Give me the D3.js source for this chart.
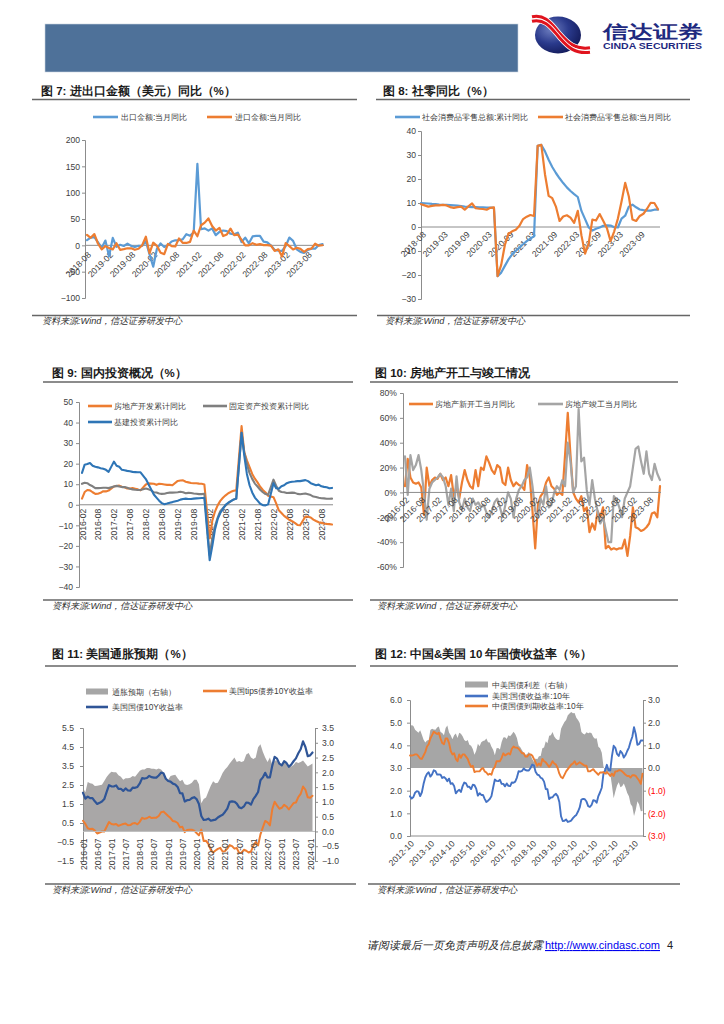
<!DOCTYPE html>
<html><head><meta charset="utf-8">
<script src="https://cdn.jsdelivr.net/npm/d3@7"></script>
<style>
body{margin:0;background:#fff;}
svg text{font-family:"Liberation Sans",Arial,sans-serif;}
</style></head><body>
<script>
// ---------- DATA ----------
// Fig 7: 进出口金额同比 2018-08 .. 2023-12
const fig7Ticks = ['2018-08','2019-02','2019-08','2020-02','2020-08','2021-02','2021-08','2022-02','2022-08','2023-02','2023-08'];
const fig7Export = [9.8,14.5,15.6,5.4,-4.4, 9.1,-20.7,14.2,-2.7,1.1,-1.3,3.3,-1.0,-3.2,-0.9,-1.1,7.6,
 -17.2,-40.6,-6.6,3.5,-3.3,0.5,7.2,9.5,9.9,11.4,21.1,18.1,
 24.9,154.9,30.6,32.3,27.9,32.2,19.3,25.6,28.1,27.1,22.0,20.9,
 24.1,6.2,14.7,3.9,16.9,17.9,18.0,7.1,5.7,-0.3,-8.7,-9.9,
 -10.5,-1.3,14.8,8.5,-7.5,-12.4,-14.5,-8.8,-6.2,-6.4,0.5,2.3];
const fig7Import = [19.9,14.3,21.4,3.0,-7.6, -1.5,-5.2,-7.6,4.0,-8.5,-7.3,-5.6,-5.6,-8.5,-6.4,0.3,16.3,
 -15.0,5.0,-0.9,-14.2,-16.7,2.7,-1.4,-2.1,13.2,4.7,4.5,6.5,
 28.0,17.3,38.1,43.1,51.1,36.7,28.1,33.1,17.6,20.6,31.7,19.5,
 20.5,10.4,-0.1,0.0,4.1,1.0,2.3,0.3,0.3,-0.7,-10.6,-7.5,
 -21.3,4.2,-1.4,-7.9,-4.5,-6.8,-12.4,-7.3,-6.2,3.0,-0.6,0.2];

// Fig 8: 社零同比
const fig8Ticks = ['2018-08','2019-03','2019-09','2020-03','2020-09','2021-03','2021-09','2022-03','2022-09','2023-03','2023-09'];
const fig8Cum = [10.0,9.9,9.8,9.6,9.5,9.3,9.2,9.2,9.1,9.0,8.9,8.7,8.5,8.4,8.3,8.3,8.2,8.2,8.1,8.1,8.0,
 -20.5,-19.0,-16.2,-13.5,-11.4,-9.9,-8.6,-7.2,-5.9,-4.8,-3.9,
 33.8,34.2,31.5,28.0,25.0,22.5,20.3,18.3,16.5,15.0,13.7,12.5,
 6.7,3.3,-0.2,-1.5,-0.7,-0.2,0.5,0.7,0.6,-0.1,-0.2,
 3.5,4.7,8.5,9.3,8.2,7.3,7.0,6.8,6.8,7.2,7.2];
const fig8Month = [9.5,9.0,8.5,8.8,9.0,9.0,9.2,9.0,8.3,8.0,8.3,8.5,7.2,8.6,9.8,7.8,7.6,7.5,7.2,8.0,8.2,
 -20.5,-15.8,-7.5,-2.8,-1.8,-1.1,0.5,3.3,4.3,5.0,4.6,
 33.8,34.2,22.0,13.0,12.0,8.5,2.5,4.4,4.9,3.9,1.7,6.7,
 -3.5,-11.1,-6.7,3.1,2.7,5.4,2.5,-0.5,-5.9,-1.8,3.5,
 10.6,18.4,12.7,3.1,2.5,4.6,5.5,7.6,10.1,10.0,7.4];

// Fig 9: 国内投资 2016-02 .. 2023-12 (January = no data)
const fig9Ticks = ['2016-02','2016-08','2017-02','2017-08','2018-02','2018-08','2019-02','2019-08','2020-02','2020-08','2021-02','2021-08','2022-02','2022-08','2023-02','2023-08'];
const fig9RealEstate = [3.0,6.2,7.2,7.0,6.1,5.3,5.4,5.8,6.6,6.5,6.9, null,
 8.9,9.1,9.3,8.8,8.5,7.9,7.9,8.1,7.8,7.5,7.0, null,
 9.9,10.4,10.3,10.2,9.7,10.2,10.1,9.9,9.7,9.7,9.5, null,
 11.6,11.8,11.9,11.2,10.9,10.6,10.5,10.5,10.3,10.2,9.9, null,
 -16.3,-7.7,-3.3,-0.3,1.9,3.4,4.6,5.6,6.3,6.8,7.0, null,
 38.3,25.6,21.6,18.3,15.0,12.7,10.9,8.8,7.2,6.0,4.4, null,
 3.7,0.7,-2.7,-4.0,-5.4,-6.4,-7.4,-8.0,-8.8,-9.8,-10.0, null,
 -5.7,-5.8,-6.2,-7.2,-7.9,-8.5,-8.8,-9.1,-9.3,-9.4,-9.6];
const fig9FixedAsset = [10.2,10.7,10.5,9.6,9.0,8.1,8.1,8.2,8.3,8.3,8.1, null,
 8.9,9.2,8.9,8.6,8.6,8.3,7.8,7.5,7.3,7.2,7.2, null,
 7.9,7.5,7.0,6.1,6.0,5.5,5.3,5.4,5.7,5.9,5.9, null,
 6.1,6.3,6.1,5.6,5.8,5.7,5.5,5.4,5.2,5.2,5.4, null,
 -24.5,-16.1,-10.3,-6.3,-3.1,-1.6,-0.3,0.8,1.8,2.6,2.9, null,
 35.0,25.6,19.9,15.4,12.6,10.3,8.9,7.3,6.1,5.2,4.9, null,
 12.2,9.3,6.8,6.2,6.1,5.7,5.8,5.9,5.8,5.3,5.1, null,
 5.5,5.1,4.7,4.0,3.8,3.4,3.2,3.1,2.9,2.9,3.0];
const fig9Infra = [15.5,19.5,19.8,20.3,19.0,18.5,18.2,17.8,17.5,17.0,16.0, null,
 21.0,19.0,18.5,17.0,16.8,16.5,16.3,16.0,15.9,15.8,15.8, null,
 12.5,10.0,7.5,5.0,3.5,2.0,0.8,0.3,0.6,1.0,1.3, null,
 2.0,2.5,2.8,3.0,2.8,2.8,3.0,3.1,3.2,3.3,3.3, null,
 -27.0,-20.0,-12.0,-7.0,-4.0,-2.0,0.0,1.0,1.8,2.5,3.0, null,
 35.0,24.0,15.0,9.5,6.0,3.5,2.0,0.5,-0.2,-0.3,0.2, null,
 10.5,8.0,7.8,9.0,9.5,10.5,11.0,11.2,11.3,11.5,11.5, null,
 12.0,11.5,10.5,10.0,9.5,9.8,9.0,8.7,8.5,8.0,8.2];

// Fig 10: 房地产开工与竣工 (%)
const fig10Ticks = fig9Ticks.slice();
const fig10NewStart = [5,27,12,8,7,8,4,-18,20,5, 10,12,11,15,10,12,5,14,-3,5,
 -5,8,18,10,5,3,18,5,20,18, 29,24,18,15,22,20,8,6,20,10,
 5,8,6,5,2,22,12,-15,-45,-10, -3,0,8,12,5,3,-2,0,-2,30,
 64,30,0,-5,-8,-3,-15,-12,-32,-25, -30,-15,-20,-12,-45,-43,-46,-45,-46,-45,
 -45,-38,-51,-35,-12,-28,-29,-31,-30,-28, -25,-17,-16,-20,5];
const fig10Completed = [29,-2,30,18,22,30,18,0,-22,3, 8,10,12,15,12,5,-10,3,-15,13,
 -8,-14,-5,-12,-15,-5,-10,-8,-12,-10, -16,-20,-15,-8,-5,-12,-20,-10,0,-5,
 -20,-5,2,5,10,12,20,5,-15,-20, -5,-10,5,-12,-10,0,5,2,10,5,
 40,25,0,5,67,25,28,2,-10,10, -5,-15,-25,-20,-30,-40,-40,-3,-6,-12,
 -20,-5,0,5,20,35,37,25,15,33, 15,10,23,15,10];

// Fig 11: 美国通胀预期 2016-01 .. 2024-02 monthly
const fig11Ticks = ['2016-01','2016-07','2017-01','2017-07','2018-01','2018-07','2019-01','2019-07','2020-01','2020-07','2021-01','2021-07','2022-01','2022-07','2023-01','2023-07','2024-01'];
const fig11Breakeven = [1.47,1.33,1.67,1.63,1.61,1.54,1.55,1.56,1.58,1.71,1.84,1.94,
 2.02,2.00,2.00,1.90,1.85,1.75,1.80,1.80,1.82,1.88,1.85,1.95,
 2.05,2.10,2.10,2.15,2.15,2.12,2.12,2.10,2.13,2.10,2.00,1.80,
 1.75,1.88,1.90,1.92,1.80,1.70,1.75,1.60,1.57,1.60,1.65,1.75,
 1.75,1.60,0.95,1.10,1.15,1.35,1.55,1.70,1.63,1.65,1.80,1.98,
 2.10,2.18,2.30,2.40,2.50,2.35,2.38,2.35,2.38,2.60,2.65,2.50,
 2.45,2.50,2.85,2.95,2.70,2.50,2.35,2.50,2.25,2.40,2.40,2.30,
 2.25,2.35,2.30,2.25,2.20,2.25,2.35,2.32,2.35,2.40,2.30,2.20,
 2.25,2.30];
const fig11Tips = [0.62,0.45,0.22,0.18,0.20,0.10,-0.05,0.00,0.05,0.05,0.30,0.55,
 0.45,0.42,0.45,0.35,0.40,0.45,0.47,0.38,0.39,0.48,0.50,0.43,
 0.56,0.77,0.72,0.75,0.83,0.76,0.78,0.78,0.87,1.07,1.10,0.99,
 0.87,0.76,0.60,0.58,0.50,0.27,0.30,0.02,0.13,0.14,0.15,0.10,
 -0.03,-0.15,0.15,-0.45,-0.44,-0.60,-0.92,-1.05,-0.95,-0.86,-0.81,-1.00,
 -0.98,-0.85,-0.66,-0.72,-0.85,-0.82,-1.08,-1.06,-0.91,-0.96,-1.05,-1.00,
 -0.69,-0.50,-0.68,-0.10,0.26,0.61,0.53,0.37,1.22,1.62,1.43,1.25,
 1.30,1.46,1.37,1.21,1.38,1.55,1.58,1.86,2.03,2.42,2.25,1.85,
 1.83,1.93];
const fig11UST10 = [2.09,1.78,1.89,1.81,1.81,1.64,1.50,1.56,1.63,1.76,2.14,2.49,
 2.43,2.42,2.48,2.30,2.30,2.19,2.32,2.21,2.20,2.36,2.35,2.40,
 2.58,2.86,2.84,2.87,2.98,2.91,2.89,2.89,3.00,3.15,3.12,2.83,
 2.71,2.68,2.57,2.53,2.40,2.07,2.06,1.63,1.70,1.71,1.81,1.86,
 1.76,1.50,0.87,0.66,0.67,0.73,0.62,0.65,0.68,0.79,0.87,0.93,
 1.08,1.26,1.61,1.64,1.62,1.52,1.32,1.28,1.37,1.58,1.56,1.47,
 1.76,1.93,2.13,2.75,2.90,3.14,2.90,2.90,3.52,3.98,3.89,3.62,
 3.53,3.75,3.66,3.46,3.57,3.75,3.90,4.17,4.38,4.80,4.50,4.02,
 4.06,4.21];

// Fig 12: 中美10年国债 2012-10 .. 2024-03 monthly
const fig12Ticks = ['2012-10','2013-10','2014-10','2015-10','2016-10','2017-10','2018-10','2019-10','2020-10','2021-10','2022-10','2023-10'];
const fig12Spread = [1.80,1.90,1.85,
 1.69,1.62,1.56,1.66,1.47,1.25,1.12,1.21,1.24,1.68,1.73,1.70,
 1.69,1.79,1.83,1.59,1.54,1.45,1.76,1.88,1.57,1.45,1.27,1.44,
 1.52,1.32,1.56,1.51,1.40,1.24,1.18,1.23,1.03,0.98,0.84,0.58,
 0.76,1.07,0.96,1.14,1.19,1.21,1.30,1.14,1.12,0.94,0.81,0.56,
 0.87,0.88,0.82,1.15,1.35,1.36,1.28,1.44,1.40,1.49,1.60,1.50,
 1.32,0.99,0.91,0.78,0.67,0.59,0.61,0.71,0.60,0.40,0.28,0.42,
 0.39,0.52,0.53,0.87,0.90,1.18,1.09,1.42,1.45,1.59,1.39,1.29,
 1.24,1.25,1.73,1.89,2.03,2.12,2.33,2.40,2.47,2.41,2.43,2.22,
 2.12,1.99,1.59,1.51,1.48,1.58,1.53,1.57,1.53,1.37,1.29,1.31,
 0.94,0.87,0.67,0.07,-0.15,-0.32,-0.15,-0.25,-0.77,-1.33,-1.04,-0.77,
 -0.63,-0.85,-0.81,-0.68,-0.87,-1.10,-1.25,-1.59,-1.70,-2.12,-1.85,-1.47,
 -1.61,-1.91,-1.90];
const fig12US = [1.75,1.65,1.72,
 1.91,1.98,1.96,1.76,1.93,2.30,2.58,2.74,2.81,2.62,2.72,2.90,
 2.86,2.71,2.72,2.71,2.56,2.60,2.54,2.42,2.53,2.30,2.33,2.21,
 1.88,1.98,2.04,1.94,2.20,2.36,2.32,2.17,2.17,2.07,2.26,2.24,
 2.09,1.78,1.89,1.81,1.81,1.64,1.50,1.56,1.63,1.76,2.14,2.49,
 2.43,2.42,2.48,2.30,2.30,2.19,2.32,2.21,2.20,2.36,2.35,2.40,
 2.58,2.86,2.84,2.87,2.98,2.91,2.89,2.89,3.00,3.15,3.12,2.83,
 2.71,2.68,2.57,2.53,2.40,2.07,2.06,1.63,1.70,1.71,1.81,1.86,
 1.76,1.50,0.87,0.66,0.67,0.73,0.62,0.65,0.68,0.79,0.87,0.93,
 1.08,1.26,1.61,1.64,1.62,1.52,1.32,1.28,1.37,1.58,1.56,1.47,
 1.76,1.93,2.13,2.75,2.90,3.14,2.90,2.90,3.52,3.98,3.89,3.62,
 3.53,3.75,3.66,3.46,3.57,3.75,3.90,4.17,4.38,4.80,4.50,4.02,
 4.06,4.21,4.21];
const fig12CN = [3.55,3.55,3.57,
 3.60,3.60,3.52,3.42,3.40,3.55,3.70,3.95,4.05,4.30,4.45,4.60,
 4.55,4.50,4.55,4.30,4.10,4.05,4.30,4.30,4.10,3.75,3.60,3.65,
 3.40,3.30,3.60,3.45,3.60,3.60,3.50,3.40,3.20,3.05,3.10,2.82,
 2.85,2.85,2.85,2.95,3.00,2.85,2.80,2.70,2.75,2.70,2.95,3.05,
 3.30,3.30,3.30,3.45,3.65,3.55,3.60,3.65,3.60,3.85,3.95,3.90,
 3.90,3.85,3.75,3.65,3.65,3.50,3.50,3.60,3.60,3.55,3.40,3.25,
 3.10,3.20,3.10,3.40,3.30,3.25,3.15,3.05,3.15,3.30,3.20,3.15,
 3.00,2.75,2.60,2.55,2.70,2.85,2.95,3.05,3.15,3.20,3.30,3.15,
 3.20,3.25,3.20,3.15,3.10,3.10,2.85,2.85,2.90,2.95,2.85,2.78,
 2.70,2.80,2.80,2.82,2.75,2.82,2.75,2.65,2.75,2.65,2.85,2.85,
 2.90,2.90,2.85,2.78,2.70,2.65,2.65,2.58,2.68,2.68,2.65,2.55,
 2.45,2.30,2.75];

// ---------- DRAWING ----------
const svg = d3.select('body').append('svg').attr('width',724).attr('height',1024);
const CJK = '"Noto Sans CJK SC", sans-serif';
const ORANGE='#ed7d31';

function title(x,y,t){svg.append('text').attr('x',x).attr('y',y).attr('font-family',CJK).attr('font-size',11.5).attr('font-weight','bold').attr('fill','#1a1a1a').text(t);}
function hline(x1,x2,y,w,c){svg.append('line').attr('x1',x1).attr('x2',x2).attr('y1',y).attr('y2',y).attr('stroke',c||'#666').attr('stroke-width',w||1.3);}
function source(x,y){svg.append('text').attr('x',x).attr('y',y).attr('font-family',CJK).attr('font-size',9.2).attr('font-style','italic').attr('fill','#333').text('资料来源:Wind，信达证券研发中心');}
function legLine(x1,x2,y,color,text,tx,w){
  svg.append('line').attr('x1',x1).attr('x2',x2).attr('y1',y).attr('y2',y).attr('stroke',color).attr('stroke-width',w||2.6);
  svg.append('text').attr('x',tx).attr('y',y+3).attr('font-family',CJK).attr('font-size',8.4).attr('fill','#404040').text(text);
}
function legRect(x,y,w,h,color,text,tx,ty){
  svg.append('rect').attr('x',x).attr('y',y).attr('width',w).attr('height',h).attr('fill',color);
  svg.append('text').attr('x',tx).attr('y',ty).attr('font-family',CJK).attr('font-size',8.4).attr('fill','#404040').text(text);
}
function yAxis(scale,x,ticks,fmt,pad,right,colorFn){
  const ax=(right?d3.axisRight(scale):d3.axisLeft(scale)).tickValues(ticks).tickSize(3).tickPadding(pad-3).tickFormat(fmt);
  const g=svg.append('g').attr('transform',`translate(${x},0)`).call(ax)
    .attr('font-family','"Liberation Sans", Arial, sans-serif').attr('font-size',8.6);
  g.select('.domain').attr('stroke','#8c8c8c');
  g.selectAll('.tick line').attr('stroke','#8c8c8c');
  g.selectAll('.tick text').attr('fill',d=>colorFn?colorFn(d):'#404040');
  return g;
}
function xAxis(scale,y,x0,x1,ticks,labels,rot,dx,dy,lineColor){
  if(lineColor!==null) svg.append('line').attr('x1',x0).attr('x2',x1).attr('y1',y).attr('y2',y).attr('stroke',lineColor||'#8c8c8c').attr('stroke-width',1);
  const ax=d3.axisBottom(scale).tickValues(ticks).tickSize(0).tickFormat((d,i)=>labels[i]);
  const g=svg.append('g').attr('transform',`translate(0,${y})`).call(ax)
    .attr('font-family','"Liberation Sans", Arial, sans-serif').attr('font-size',8.6);
  g.select('.domain').remove();
  g.selectAll('.tick text').attr('x',0).attr('y',0).attr('dy','0.35em').attr('fill','#404040')
    .attr('transform',`translate(${dx},${dy}) rotate(${rot})`).style('text-anchor','end');
}
function drawLine(xs,ys,data,color,w){
  const pts=data.map((v,i)=>[i,v]).filter(d=>d[1]!=null);
  svg.append('path').datum(pts).attr('fill','none').attr('stroke',color).attr('stroke-width',w)
    .attr('stroke-linejoin','round').attr('stroke-linecap','round')
    .attr('d',d3.line().x(d=>xs(d[0])).y(d=>ys(d[1])));
}
function drawArea(xs,ys,data,color){
  svg.append('path').datum(data).attr('fill',color)
    .attr('d',d3.area().x((d,i)=>xs(i)).y0(ys(0)).y1(d=>ys(d)));
}
const idxTicks=(n,step)=>d3.range(0,n*step,step);

// ---------- HEADER ----------
svg.append('rect').attr('x',45).attr('y',24).attr('width',473).attr('height',48).attr('fill','#4e7199').attr('stroke','#c9d3df').attr('stroke-width',0.6);
const defs=svg.append('defs');
const rg=defs.append('radialGradient').attr('id','ball').attr('cx','35%').attr('cy','35%').attr('r','70%');
rg.append('stop').attr('offset','0%').attr('stop-color','#6f7fc0');
rg.append('stop').attr('offset','55%').attr('stop-color','#2a3a8c');
rg.append('stop').attr('offset','100%').attr('stop-color','#141c5c');
svg.append('ellipse').attr('cx',558).attr('cy',35).attr('rx',23).attr('ry',18.5).attr('fill','url(#ball)');
[[-2.2,'#e0141e'],[2.2,'#e0141e']].forEach(([o,c])=>{
  svg.append('path').attr('d',`M${532} ${19+o} C ${546} ${16+o}, ${552} ${27+o}, ${560} ${36+o} S ${575} ${52+o}, ${590} ${50+o}`)
    .attr('fill','none').attr('stroke','#fff').attr('stroke-width',4.6);
  svg.append('path').attr('d',`M${532} ${19+o} C ${546} ${16+o}, ${552} ${27+o}, ${560} ${36+o} S ${575} ${52+o}, ${590} ${50+o}`)
    .attr('fill','none').attr('stroke',c).attr('stroke-width',3.0);
});
svg.append('text').attr('x',603).attr('y',38).attr('font-family',CJK).attr('font-weight','bold').attr('font-size',17.5)
  .attr('fill','#1f2a80').attr('textLength',100).attr('lengthAdjust','spacingAndGlyphs').text('信达证券');
svg.append('text').attr('x',603).attr('y',48.5).attr('font-weight','bold').attr('font-size',8.6)
  .attr('fill','#1f2a80').attr('textLength',99).attr('lengthAdjust','spacingAndGlyphs').text('CINDA SECURITIES');

// ---------- FIG 7 ----------
title(41,95,'图 7: 进出口金额（美元）同比（%）');
hline(32,357,99.5);
legLine(93,118,117,'#5b9bd5','出口金额:当月同比',121);
legLine(207,232,117,ORANGE,'进口金额:当月同比',235);
{
  const x=d3.scaleLinear().domain([0,fig7Export.length-1]).range([87,322.5]);
  const y=d3.scaleLinear().domain([-100,200]).range([298,140]);
  yAxis(y,85,[-100,-50,0,50,100,150,200],d3.format('d'),5);
  xAxis(x,y(0),85,324,idxTicks(fig7Ticks.length,6),fig7Ticks,-45,2,8);
  drawLine(x,y,fig7Export,'#5b9bd5',2.2);
  drawLine(x,y,fig7Import,ORANGE,2.2);
}
hline(32,357,315.5);
source(42,324);

// ---------- FIG 8 ----------
title(383,95,'图 8: 社零同比（%）');
hline(376,690,99.5);
legLine(395,420,117,'#5b9bd5','社会消费品零售总额:累计同比',422);
legLine(538,563,117,ORANGE,'社会消费品零售总额:当月同比',565);
{
  const x=d3.scaleLinear().domain([0,fig8Cum.length-1]).range([421,658]);
  const y=d3.scaleLinear().domain([-30,40]).range([299,131]);
  yAxis(y,421,[-30,-20,-10,0,10,20,30,40],d3.format('d'),5);
  xAxis(x,y(0),421,660,idxTicks(fig8Ticks.length,6),fig8Ticks,-45,3,6);
  drawLine(x,y,fig8Cum,'#5b9bd5',2.2);
  drawLine(x,y,fig8Month,ORANGE,2.2);
}
hline(377,690,315.5);
source(385,323.5);

// ---------- FIG 9 ----------
title(52,377,'图 9: 国内投资概况（%）');
hline(43,353,382);
legLine(88,112,406,ORANGE,'房地产开发累计同比',114);
legLine(203,227,406,'#7f7f7f','固定资产投资累计同比',229);
legLine(88,112,422,'#2e75b6','基建投资累计同比',114);
{
  const x=d3.scaleLinear().domain([0,fig9RealEstate.length-1]).range([82,332]);
  const y=d3.scaleLinear().domain([-40,50]).range([587,402]);
  yAxis(y,79,d3.range(-40,51,10),d3.format('d'),6);
  xAxis(x,y(0),79,333,idxTicks(fig9Ticks.length,6),fig9Ticks,-90,0,4);
  drawLine(x,y,fig9RealEstate,ORANGE,2.1);
  drawLine(x,y,fig9FixedAsset,'#7f7f7f',2.1);
  drawLine(x,y,fig9Infra,'#2e75b6',2.1);
}
hline(43,353,600);
source(52,609);

// ---------- FIG 10 ----------
title(375,377,'图 10: 房地产开工与竣工情况');
hline(370,678,382);
legLine(409,433,404,ORANGE,'房地产新开工当月同比',435);
legLine(538,563,404,'#a5a5a5','房地产竣工当月同比',565);
{
  const x=d3.scaleLinear().domain([0,fig10NewStart.length-1]).range([405,660]);
  const y=d3.scaleLinear().domain([-60,80]).range([567,393]);
  yAxis(y,403,[-60,-40,-20,0,20,40,60,80],d=>d+'%',6);
  drawLine(x,y,fig10NewStart,ORANGE,2.2);
  drawLine(x,y,fig10Completed,'#a5a5a5',2.2);
  xAxis(x,y(0),403,661,idxTicks(fig10Ticks.length,6),fig10Ticks,-45,2,6);
}
hline(370,678,600);
source(377,608.5);

// ---------- FIG 11 ----------
title(52,658,'图 11: 美国通胀预期（%）');
hline(45,356,666);
legRect(86,688.5,22,6,'#a6a6a6','通胀预期（右轴）',112,694.5);
legLine(203,227,691,ORANGE,'美国tips债券10Y收益率',229);
legLine(86,108,707,'#2f5597','美国国债10Y收益率',112);
{
  const x=d3.scaleLinear().domain([0,fig11UST10.length-1]).range([83,312.5]);
  const yL=d3.scaleLinear().domain([-1.5,5.5]).range([861,728]);
  const yR=d3.scaleLinear().domain([-1,3.5]).range([861,728]);
  drawArea(x,yR,fig11Breakeven,'#a9a7a7');
  yAxis(yL,83,[-1.5,-0.5,0.5,1.5,2.5,3.5,4.5,5.5],d3.format('.1f'),9);
  yAxis(yR,315,[-1,-0.5,0,0.5,1,1.5,2,2.5,3,3.5],d3.format('.1f'),7,true);
  drawLine(x,yL,fig11Tips,ORANGE,2);
  drawLine(x,yL,fig11UST10,'#2f5597',2.2);
  xAxis(x,yR(0),83,315,idxTicks(fig11Ticks.length,6),fig11Ticks,-90,0,7,'#bfbfbf');
}
hline(45,356,884);
source(52,893);

// ---------- FIG 12 ----------
title(375,658,'图 12: 中国&美国 10 年国债收益率（%）');
hline(370,678,666);
legRect(465,681.5,23,6,'#a6a6a6','中美国债利差（右轴）',492,688);
legLine(465,488,696,'#4472c4','美国:国债收益率:10年',492);
legLine(465,488,706,ORANGE,'中债国债到期收益率:10年',492);
{
  const x=d3.scaleLinear().domain([0,fig12US.length-1]).range([410,642.5]);
  const yL=d3.scaleLinear().domain([0,6]).range([836,700]);
  const yR=d3.scaleLinear().domain([-3,3]).range([836,700]);
  drawArea(x,yR,fig12Spread,'#a6a6a6');
  yAxis(yL,410,[0,1,2,3,4,5,6],d3.format('.1f'),8);
  yAxis(yR,643,[-3,-2,-1,0,1,2,3],d=>d<0?`(${(-d).toFixed(1)})`:d.toFixed(1),5,true,d=>d<0?'#ff0000':'#404040');
  drawLine(x,yL,fig12US,'#4472c4',1.9);
  drawLine(x,yL,fig12CN,ORANGE,1.9);
  xAxis(x,836,410,643,idxTicks(fig12Ticks.length,12),fig12Ticks,-45,2,6);
}
hline(368,680,884);
source(377,893);

// ---------- FOOTER ----------
svg.append('text').attr('x',367).attr('y',949).attr('font-family',CJK).attr('font-size',10.8).attr('font-style','italic').attr('fill','#222').text('请阅读最后一页免责声明及信息披露');
svg.append('text').attr('x',545).attr('y',949).attr('font-size',11).attr('fill','#0000ee').attr('text-decoration','underline').attr('textLength',115).text('http://www.cindasc.com');
svg.append('text').attr('x',667).attr('y',949).attr('font-size',11).attr('fill','#222').text('4');
</script>
</body></html>
